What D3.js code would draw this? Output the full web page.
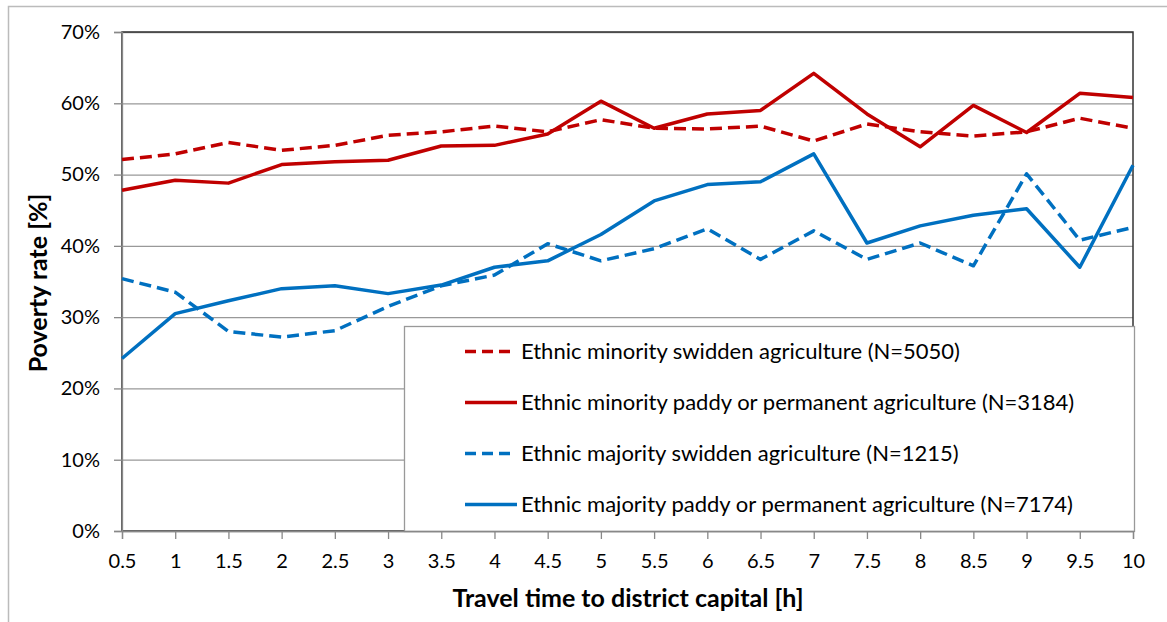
<!DOCTYPE html>
<html>
  <head>
    <meta charset="utf-8">
    <script src="https://d3js.org/d3.v7.min.js"></script>
    <style>
      body { margin: 0px; background: #fff; }
      svg { display: block; }
      text { font-family: Lato, "Open Sans", sans-serif; fill: #000; }
      .axis .domain { stroke: #888; stroke-width: 1.3px; }
      .axis .tick line { stroke: #888; stroke-width: 1.3px; }
      .axis .tick text { font-size: 20px; }
      .grid line { stroke: #999; stroke-width: 1.3px; }
      .grid .domain { display: none; }
      .title { font-size: 25px; font-weight: bold; }
      .legend text { font-size: 22px; }
    </style>
  </head>
  <body>
    <svg width="1167" height="622"></svg>
    <script>
      var hours = [0.5, 1, 1.5, 2, 2.5, 3, 3.5, 4, 4.5, 5, 5.5, 6, 6.5, 7, 7.5, 8, 8.5, 9, 9.5, 10];
      var percentTicks = [0, 10, 20, 30, 40, 50, 60, 70];

      var minoritySwidden = [52.1, 52.9, 54.5, 53.4, 54.1, 55.5, 56.0, 56.8, 56.0, 57.7, 56.5, 56.4, 56.8, 54.7, 57.1, 56.0, 55.4, 56.0, 57.9, 56.5];
      var minorityPaddy = [47.8, 49.2, 48.8, 51.4, 51.8, 52.0, 54.0, 54.1, 55.7, 60.3, 56.5, 58.5, 59.0, 64.2, 58.5, 53.9, 59.7, 55.9, 61.4, 60.8];
      var majoritySwidden = [35.4, 33.5, 28.0, 27.2, 28.1, 31.5, 34.4, 35.9, 40.3, 37.9, 39.6, 42.4, 38.1, 42.1, 38.1, 40.4, 37.2, 50.1, 40.8, 42.6];
      var majorityPaddy = [24.2, 30.5, 32.3, 34.0, 34.4, 33.3, 34.5, 37.0, 37.9, 41.6, 46.3, 48.6, 49.0, 52.9, 40.4, 42.8, 44.3, 45.2, 37.0, 51.3];

      var seriesNames = [
        'Ethnic minority swidden agriculture (N=5050)',
        'Ethnic minority paddy or permanent agriculture (N=3184)',
        'Ethnic majority swidden agriculture (N=1215)',
        'Ethnic majority paddy or permanent agriculture (N=7174)'
      ];
      var seriesValues = [minoritySwidden, minorityPaddy, majoritySwidden, majorityPaddy];
      var seriesColors = ['#C00000', '#C00000', '#0070C0', '#0070C0'];
      var seriesDashed = [true, false, true, false];

      var margin = { top: 32, right: 34, bottom: 91, left: 122 };

      var svg = d3.select('svg');
      var width = +svg.attr('width');
      var height = +svg.attr('height');
      var innerWidth = width - margin.left - margin.right;
      var innerHeight = height - margin.top - margin.bottom;

      // outer chart frame (runs off the picture right and bottom)
      svg.append('path')
          .attr('d', 'M8.5,' + height + 'V6.5H' + width)
          .attr('fill', 'none')
          .attr('stroke', '#bbb')
          .attr('stroke-width', 1.5);

      var g = svg.append('g')
          .attr('transform', `translate(${margin.left},${margin.top})`);

      var xScale = d3.scaleLinear().domain([0.5, 10]).range([0, innerWidth]);
      var yScale = d3.scaleLinear().domain([0, 70]).range([innerHeight, 0]);

      g.append('g')
          .attr('class', 'grid')
          .call(d3.axisLeft(yScale).tickValues(percentTicks).tickSize(-innerWidth).tickFormat(''));

      // plot area border
      g.append('rect')
          .attr('width', innerWidth)
          .attr('height', innerHeight)
          .attr('fill', 'none')
          .attr('stroke', '#333')
          .attr('stroke-width', 1.5);

      g.append('g')
          .attr('class', 'axis')
          .call(d3.axisLeft(yScale).tickValues(percentTicks).tickSize(8).tickPadding(14)
            .tickFormat(d => d + '%'));

      var line = d3.line()
          .x((d, i) => xScale(hours[i]))
          .y(d => yScale(d));

      seriesValues.forEach(function (values, i) {
        g.append('path')
            .datum(values)
            .attr('fill', 'none')
            .attr('stroke', seriesColors[i])
            .attr('stroke-width', 3.5)
            .attr('stroke-linejoin', 'round')
            .attr('stroke-dasharray', seriesDashed[i] ? '12,6' : null)
            .attr('d', line);
      });

      // legend
      var legendLeft = 404, legendTop = 326;
      var legend = g.append('g')
          .attr('class', 'legend')
          .attr('transform', `translate(${legendLeft - margin.left},${legendTop - margin.top})`);
      legend.append('rect')
          .attr('x', 0.5).attr('y', 0.5)
          .attr('width', 730)
          .attr('height', innerHeight - (legendTop - margin.top))
          .attr('fill', '#fff')
          .attr('stroke', '#999')
          .attr('stroke-width', 1.3);
      var items = legend.selectAll('.item').data(seriesNames).enter().append('g')
          .attr('class', 'item')
          .attr('transform', (d, i) => `translate(0,${25.5 + i * 51})`);
      items.append('line')
          .attr('x1', 61)
          .attr('x2', (d, i) => seriesDashed[i] ? 106 : 113)
          .attr('stroke', (d, i) => seriesColors[i])
          .attr('stroke-width', 3.5)
          .attr('stroke-dasharray', (d, i) => seriesDashed[i] ? '11,6' : null);
      items.append('text')
          .attr('x', 117)
          .attr('dy', '0.35em')
          .text(d => d);

      var xAxisG = g.append('g')
          .attr('class', 'axis')
          .attr('transform', `translate(0,${innerHeight})`)
          .call(d3.axisBottom(xScale).tickValues(hours).tickSize(8).tickPadding(15)
            .tickFormat(d => String(d)));

      svg.append('text')
          .attr('class', 'title')
          .attr('text-anchor', 'middle')
          .attr('transform', `translate(47,283) rotate(-90)`)
          .text('Poverty rate [%]');

      svg.append('text')
          .attr('class', 'title')
          .attr('text-anchor', 'middle')
          .attr('x', 628)
          .attr('y', 607)
          .text('Travel time to district capital [h]');
    </script>
  </body>
</html>
